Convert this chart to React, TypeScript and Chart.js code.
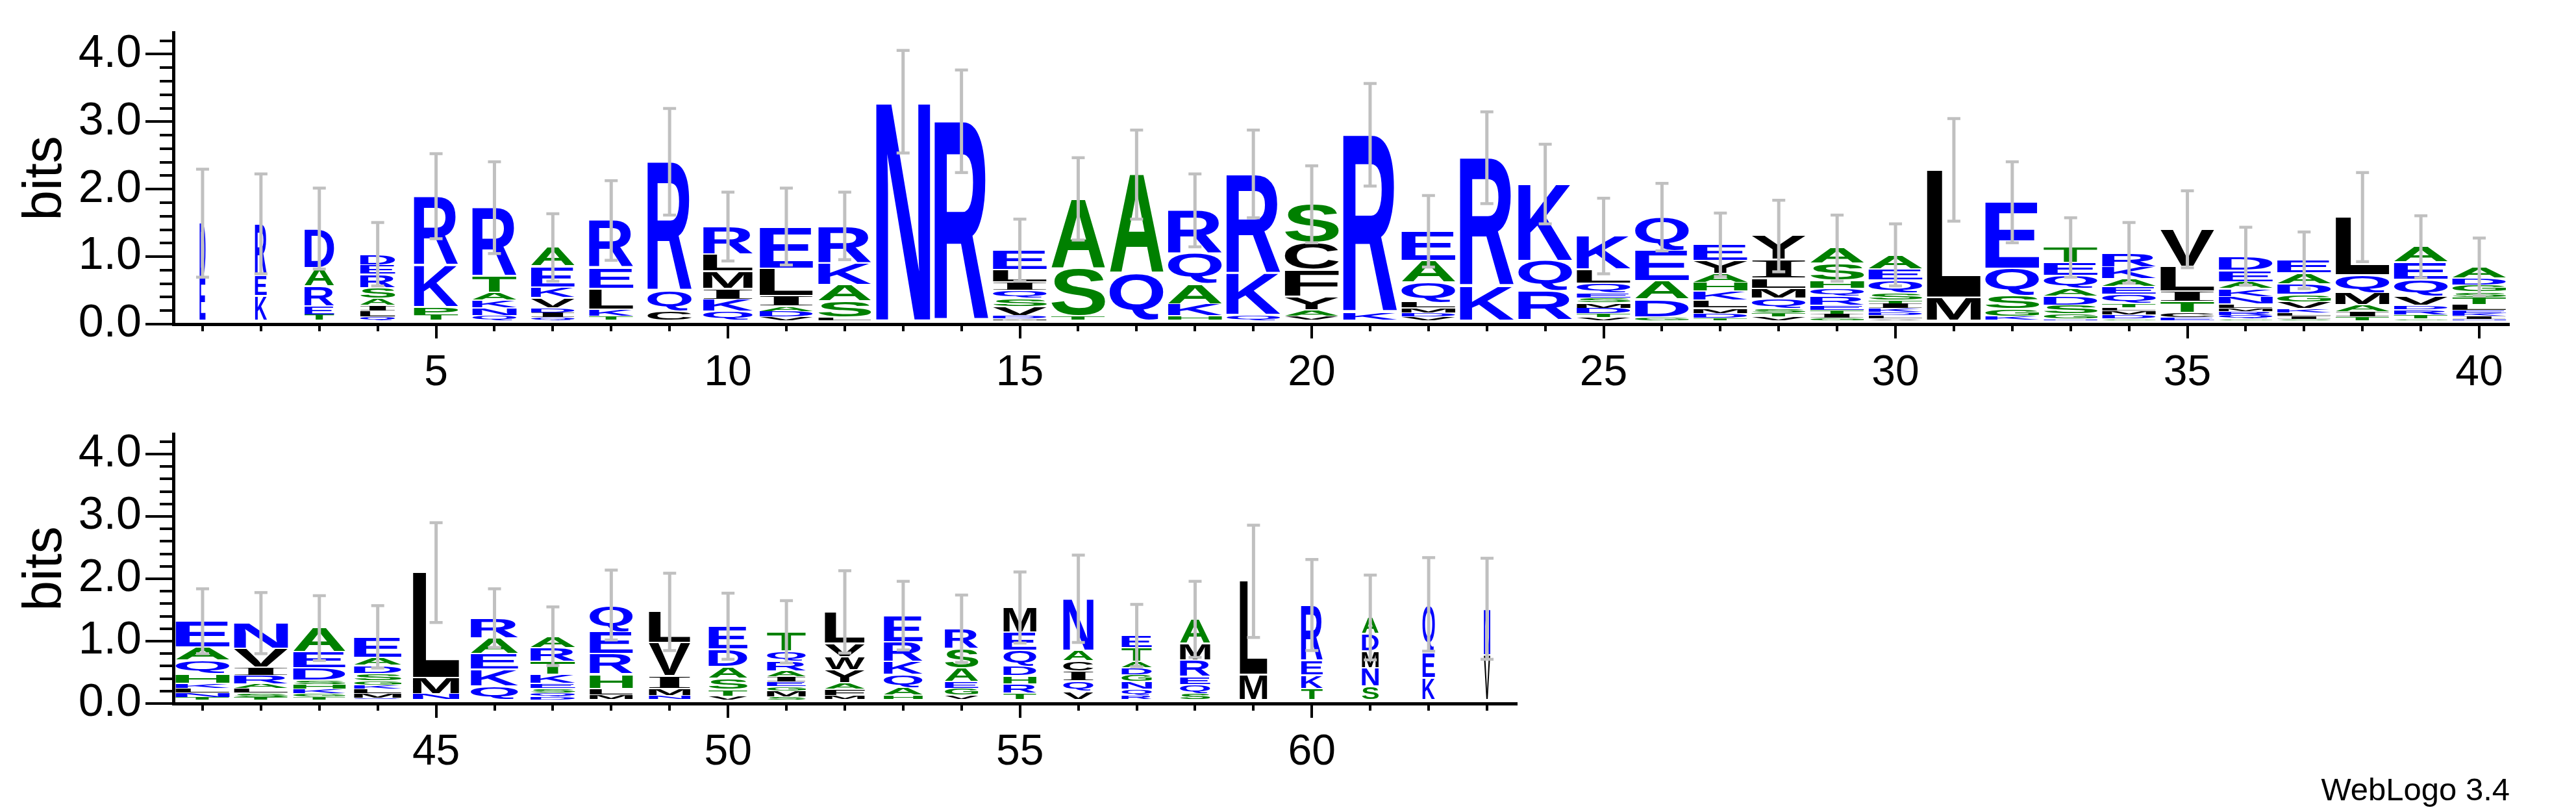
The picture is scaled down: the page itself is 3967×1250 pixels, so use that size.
import React, { useEffect, useRef } from 'react';
import { Chart, registerables } from 'chart.js';
Chart.register(...registerables);

// ---------- data (letters listed top -> bottom, heights in bits) ----------
const topPositions = Array.from({ length: 40 }, (_, i) => i + 1);
const topLetters = [
  'DE', 'REK', 'DARET', 'DERSAILQ', 'RKPT', 'RTAKNQ', 'AEKVDIQ', 'RELKT', 'RQC', 'RLMIKQ',
  'ELIADV', 'RKASL', 'N', 'R', 'ELIQSVDM', 'AST', 'AQ', 'RQAKH', 'RKQ', 'SCFYAV',
  'RK', 'EAQLMDV', 'RK', 'KQR', 'KLQESMDTV', 'QEADG', 'EYAHKLMDT', 'YILMQSTV', 'ASHQRETIG', 'AEQSTIKDLV',
  'LM', 'EQSGK', 'TEQADSGN', 'RKAEQTLMDG', 'VLITCE', 'DEAKNLMRQG', 'EADGVKLIS', 'LQMAIT', 'AEQVDRTG', 'ADGSTLEKIN',
];
const topHeights = [
  [0.8, 0.66], [0.76, 0.31, 0.38], [0.58, 0.27, 0.3, 0.13, 0.1], [0.16, 0.14, 0.2, 0.16, 0.1, 0.08, 0.09, 0.07],
  [1.02, 0.62, 0.12, 0.1], [1.02, 0.24, 0.11, 0.12, 0.11, 0.09], [0.28, 0.31, 0.16, 0.15, 0.07, 0.07, 0.06],
  [0.7, 0.31, 0.31, 0.1, 0.08], [1.91, 0.3, 0.16], [0.41, 0.25, 0.26, 0.16, 0.18, 0.15],
  [0.62, 0.41, 0.15, 0.08, 0.08, 0.07], [0.55, 0.32, 0.25, 0.24, 0.06], [3.26], [2.97],
  [0.29, 0.18, 0.13, 0.12, 0.12, 0.13, 0.05, 0.04], [1.03, 0.71, 0.08], [1.46, 0.72],
  [0.64, 0.45, 0.3, 0.18, 0.08], [1.47, 0.62, 0.1], [0.57, 0.4, 0.4, 0.2, 0.09, 0.08],
  [2.63, 0.14], [0.44, 0.32, 0.29, 0.09, 0.07, 0.06, 0.07], [1.9, 0.53], [1.14, 0.45, 0.45],
  [0.49, 0.21, 0.15, 0.07, 0.07, 0.08, 0.08, 0.06, 0.06], [0.5, 0.45, 0.27, 0.26, 0.07],
  [0.24, 0.19, 0.13, 0.13, 0.13, 0.12, 0.08, 0.07, 0.05], [0.35, 0.28, 0.15, 0.15, 0.15, 0.06, 0.06, 0.07],
  [0.23, 0.25, 0.12, 0.12, 0.13, 0.07, 0.06, 0.06, 0.05], [0.21, 0.17, 0.18, 0.11, 0.05, 0.07, 0.06, 0.05, 0.05, 0.04],
  [1.89, 0.36], [0.98, 0.4, 0.2, 0.11, 0.08], [0.23, 0.19, 0.19, 0.12, 0.13, 0.13, 0.07, 0.04],
  [0.21, 0.18, 0.11, 0.12, 0.13, 0.06, 0.05, 0.06, 0.06, 0.04], [0.55, 0.37, 0.15, 0.17, 0.07, 0.06],
  [0.21, 0.17, 0.1, 0.12, 0.11, 0.06, 0.05, 0.06, 0.05, 0.04], [0.19, 0.16, 0.16, 0.11, 0.1, 0.06, 0.05, 0.04, 0.04],
  [0.86, 0.26, 0.18, 0.1, 0.08, 0.07], [0.23, 0.26, 0.25, 0.13, 0.06, 0.08, 0.06, 0.04],
  [0.17, 0.1, 0.1, 0.08, 0.11, 0.08, 0.05, 0.04, 0.04, 0.04],
];
const topWidths = [
  0.11, 0.22, 0.55, 0.65, 0.82, 0.82, 0.81, 0.82, 0.82, 0.92, 0.99, 0.98, 1, 1, 1, 1, 1, 1, 1, 1,
  1, 1, 1, 1, 1, 1, 1, 1, 1, 1, 1, 1, 1, 1, 1, 1, 1, 1, 1, 1,
];
const topErrors = [
  0.8, 0.74, 0.6, 0.47, 0.63, 0.68, 0.5, 0.59, 0.79, 0.51, 0.57, 0.5, 0.76, 0.76, 0.46, 0.61, 0.66, 0.54, 0.65, 0.57,
  0.76, 0.53, 0.68, 0.59, 0.56, 0.5, 0.47, 0.53, 0.49, 0.46, 0.76, 0.6, 0.44, 0.45, 0.57, 0.43, 0.42, 0.66, 0.46, 0.43,
];
const topXTicks = [5, 10, 15, 20, 25, 30, 35, 40];

const bottomPositions = Array.from({ length: 23 }, (_, i) => i + 41);
const bottomLetters = [
  'EAQHKLNT', 'NVIRALST', 'AEDSHKGT', 'EADSGKLMQ', 'LMN', 'RAEKQ', 'ARTKESQD', 'QERHLM', 'LVIMN', 'EDASTV',
  'TQRAIEGMS', 'LVWYAFM', 'ERKQAH', 'RSAEGV', 'MEQDHRT', 'NACIQV', 'ETADGNQR', 'AMREQS', 'LM', 'REKT',
  'ADMNS', 'QEK', 'NV',
];
const bottomHeights = [
  [0.42, 0.21, 0.22, 0.15, 0.08, 0.07, 0.07, 0.06], [0.41, 0.3, 0.13, 0.14, 0.07, 0.07, 0.07, 0.06],
  [0.38, 0.26, 0.2, 0.07, 0.07, 0.07, 0.05, 0.07], [0.33, 0.13, 0.13, 0.12, 0.07, 0.06, 0.07, 0.07, 0.05],
  [1.69, 0.26, 0.11], [0.32, 0.25, 0.25, 0.27, 0.24], [0.19, 0.22, 0.21, 0.14, 0.08, 0.07, 0.07, 0.06],
  [0.43, 0.35, 0.33, 0.23, 0.1, 0.1], [0.5, 0.53, 0.2, 0.11, 0.09], [0.37, 0.28, 0.19, 0.18, 0.1, 0.08],
  [0.31, 0.16, 0.16, 0.09, 0.08, 0.08, 0.07, 0.09, 0.07], [0.51, 0.21, 0.21, 0.21, 0.1, 0.1, 0.09],
  [0.42, 0.32, 0.21, 0.21, 0.12, 0.09], [0.32, 0.31, 0.22, 0.11, 0.11, 0.09], [0.4, 0.29, 0.26, 0.15, 0.13, 0.15, 0.12],
  [0.83, 0.17, 0.16, 0.16, 0.17, 0.15], [0.2, 0.22, 0.1, 0.11, 0.11, 0.12, 0.1, 0.09], [0.39, 0.27, 0.26, 0.13, 0.14, 0.12],
  [1.5, 0.42], [0.89, 0.24, 0.21, 0.2], [0.26, 0.28, 0.27, 0.29, 0.24], [0.78, 0.4, 0.37], [0.74, 0.74],
];
const bottomWidths = [
  1, 1, 0.97, 0.88, 0.86, 0.88, 0.83, 0.8, 0.77, 0.72, 0.72, 0.74, 0.72, 0.62, 0.61, 0.56, 0.56, 0.56, 0.51, 0.4,
  0.31, 0.23, 0.12,
];
const bottomErrors = [
  0.52, 0.49, 0.52, 0.5, 0.8, 0.47, 0.47, 0.56, 0.62, 0.53, 0.5, 0.66, 0.55, 0.54, 0.57, 0.7, 0.5, 0.61, 0.9, 0.73,
  0.68, 0.75, 0.81,
];
const bottomXTicks = [45, 50, 55, 60];

const yMajorTicks = [0, 1, 2, 3, 4];
const yMinorTicks = [0.2, 0.4, 0.6, 0.8, 1.2, 1.4, 1.6, 1.8, 2.2, 2.4, 2.6, 2.8, 3.2, 3.4, 3.6, 3.8, 4.2];
const Y_MAX = Math.log2(20);

// ---------- styling ----------
const FONT = '"Liberation Sans", Arial, Helvetica, sans-serif';
const GLYPH_FONT = 'bold 200px "Liberation Sans", Arial, sans-serif';
const GLYPH_FONT_I = 'bold 200px "Liberation Serif", "DejaVu Serif", serif';
const BLUE = '#0000ff';
const GREEN = '#008000';
const BLACK = '#000000';
const ERR = '#c0c0c0';
const STACK_SHIFT = 4;

function colorOf(ch: string) {
  if ('DEKRNQ'.includes(ch)) return BLUE;
  if ('ASTGHP'.includes(ch)) return GREEN;
  return BLACK;
}

function drawGlyph(ctx: CanvasRenderingContext2D, ch: string, x0: number, y0: number, w: number, h: number) {
  const inset = Math.min(1.2, h * 0.08);
  y0 += inset;
  h -= inset * 2;
  if (h <= 0.3 || w <= 0.3) return;
  ctx.save();
  ctx.font = ch === 'I' ? GLYPH_FONT_I : GLYPH_FONT;
  ctx.textAlign = 'left';
  ctx.textBaseline = 'alphabetic';
  const m = ctx.measureText(ch);
  const gl = -m.actualBoundingBoxLeft;
  const gr = m.actualBoundingBoxRight;
  const gt = -m.actualBoundingBoxAscent;
  const gb = m.actualBoundingBoxDescent;
  const gw = gr - gl;
  const gh = gb - gt;
  ctx.translate(x0, y0);
  ctx.scale(w / gw, h / gh);
  ctx.fillStyle = colorOf(ch);
  ctx.fillText(ch, -gl, -gt);
  ctx.restore();
}

type PanelProps = {
  positions: number[];
  letters: string[];
  heights: number[][];
  widths: number[];
  errors: number[];
  xTicks: number[];
  xMin: number;
  xMax: number;
  width: number;
  height: number;
  top: number;
  padTop: number;
  padRight: number;
  xAxisH: number;
};

function LogoPanel(p: PanelProps) {
  const ref = useRef<HTMLCanvasElement>(null);
  useEffect(() => {
    const canvas = ref.current as HTMLCanvasElement;
    const maxK = Math.max(...p.letters.map((s) => s.length));
    const datasets: any[] = [];
    for (let k = 0; k < maxK; k++) {
      datasets.push({
        label: 'rank' + k,
        data: p.positions.map((pos, i) => {
          const s = p.letters[i];
          const n = s.length;
          return { x: pos, y: k < n ? p.heights[i][n - 1 - k] : 0 };
        }),
        backgroundColor: 'rgba(0,0,0,0)',
        borderWidth: 0,
        barPercentage: 1,
        categoryPercentage: 1,
      });
    }

    const logoPlugin = {
      id: 'logoPlugin',
      afterDatasetsDraw(chart: any) {
        const ctx: CanvasRenderingContext2D = chart.ctx;
        const xs = chart.scales.x;
        const ys = chart.scales.y;
        const unit = Math.abs(xs.getPixelForValue(1) - xs.getPixelForValue(0));
        const stackW = unit * 0.923;
        chart.data.datasets.forEach((_ds: any, k: number) => {
          const meta = chart.getDatasetMeta(k);
          meta.data.forEach((el: any, i: number) => {
            const s = p.letters[i];
            const n = s.length;
            if (k >= n) return;
            const ch = s[n - 1 - k];
            const props = el.getProps(['x', 'y', 'base'], true);
            const h = props.base - props.y;
            if (h < 0.5) return;
            const w = stackW * p.widths[i];
            drawGlyph(ctx, ch, props.x - w / 2, props.y - STACK_SHIFT, w, h);
          });
        });
        // error bars
        ctx.save();
        ctx.fillStyle = ERR;
        p.positions.forEach((pos, i) => {
          const total = p.heights[i].reduce((a, b) => a + b, 0);
          const px = xs.getPixelForValue(pos);
          const yHi = ys.getPixelForValue(total + p.errors[i]) - STACK_SHIFT;
          const yLo = ys.getPixelForValue(Math.max(0, total - p.errors[i])) - STACK_SHIFT;
          ctx.fillRect(px - 2.5, yHi, 5, yLo - yHi);
          ctx.fillRect(px - 10, yHi - 2, 20, 4.5);
          ctx.fillRect(px - 10, yLo - 2, 20, 4.5);
        });
        ctx.restore();
      },
      afterDraw(chart: any) {
        const ctx: CanvasRenderingContext2D = chart.ctx;
        const xs = chart.scales.x;
        const ys = chart.scales.y;
        const ca = chart.chartArea;
        ctx.save();
        ctx.strokeStyle = '#000';
        ctx.lineWidth = 4;
        ctx.beginPath();
        p.positions.forEach((pos) => {
          if (p.xTicks.includes(pos)) return;
          const px = Math.round(xs.getPixelForValue(pos));
          ctx.moveTo(px, ca.bottom);
          ctx.lineTo(px, ca.bottom + 11);
        });
        yMinorTicks.forEach((v) => {
          const py = Math.round(ys.getPixelForValue(v));
          ctx.moveTo(ca.left - 21, py);
          ctx.lineTo(ca.left, py);
        });
        ctx.stroke();
        ctx.restore();
      },
    };

    const chart = new Chart(canvas, {
      type: 'bar',
      data: { datasets },
      options: {
        animation: false,
        responsive: false,
        devicePixelRatio: 1,
        events: [],
        layout: { padding: { left: 0, right: p.padRight, top: p.padTop, bottom: 0 } },
        plugins: { legend: { display: false }, tooltip: { enabled: false } },
        scales: {
          x: {
            type: 'linear',
            min: p.xMin,
            max: p.xMax,
            stacked: true,
            offset: false,
            afterBuildTicks: (s: any) => {
              s.ticks = p.xTicks.map((v) => ({ value: v }));
            },
            afterFit: (s: any) => {
              s.height = p.xAxisH;
            },
            ticks: {
              callback: (v: any) => String(v),
              font: { size: 66, family: FONT },
              color: '#000',
              padding: 14,
              maxRotation: 0,
              autoSkip: false,
            },
            grid: {
              drawOnChartArea: false,
              drawTicks: true,
              tickLength: 22,
              tickWidth: 4,
              tickColor: '#000',
              color: '#000',
              lineWidth: 4,
              offset: false,
            },
            border: { display: true, color: '#000', width: 5 },
          },
          y: {
            type: 'linear',
            min: 0,
            max: Y_MAX,
            stacked: true,
            afterBuildTicks: (s: any) => {
              s.ticks = yMajorTicks.map((v) => ({ value: v }));
            },
            afterFit: (s: any) => {
              s.width = 267;
            },
            ticks: {
              callback: (v: any) => Number(v).toFixed(1),
              font: { size: 70, family: FONT },
              color: '#000',
              padding: 6,
              autoSkip: false,
            },
            grid: {
              drawOnChartArea: false,
              drawTicks: true,
              tickLength: 43,
              tickWidth: 4,
              tickColor: '#000',
              color: '#000',
              lineWidth: 4,
            },
            border: { display: true, color: '#000', width: 5 },
            title: {
              display: true,
              text: 'bits',
              font: { size: 84, family: FONT },
              color: '#000',
              padding: { top: 20, bottom: 0 },
            },
          },
        },
      } as any,
      plugins: [logoPlugin],
    });
    return () => chart.destroy();
  }, []);
  return (
    <canvas
      ref={ref}
      width={p.width}
      height={p.height}
      style={{ position: 'absolute', left: 0, top: p.top, width: p.width, height: p.height }}
    />
  );
}

export default function App() {
  return (
    <div
      style={{
        position: 'absolute',
        left: 0,
        top: 0,
        width: 3967,
        height: 1250,
        overflow: 'hidden',
        background: '#fff',
      }}
    >
      <LogoPanel
        positions={topPositions}
        letters={topLetters}
        heights={topHeights}
        widths={topWidths}
        errors={topErrors}
        xTicks={topXTicks}
        xMin={0.5}
        xMax={40.5}
        width={3967}
        height={620}
        top={0}
        padTop={50}
        padRight={104}
        xAxisH={121}
      />
      <LogoPanel
        positions={bottomPositions}
        letters={bottomLetters}
        heights={bottomHeights}
        widths={bottomWidths}
        errors={bottomErrors}
        xTicks={bottomXTicks}
        xMin={40.5}
        xMax={63.5}
        width={2450}
        height={630}
        top={620}
        padTop={14}
        padRight={115}
        xAxisH={167}
      />
      <div
        style={{
          position: 'absolute',
          right: 102,
          top: 1191,
          font: '49px "Liberation Sans", Arial, sans-serif',
          lineHeight: '49px',
          whiteSpace: 'nowrap',
          color: '#000',
        }}
      >
        WebLogo 3.4
      </div>
    </div>
  );
}
